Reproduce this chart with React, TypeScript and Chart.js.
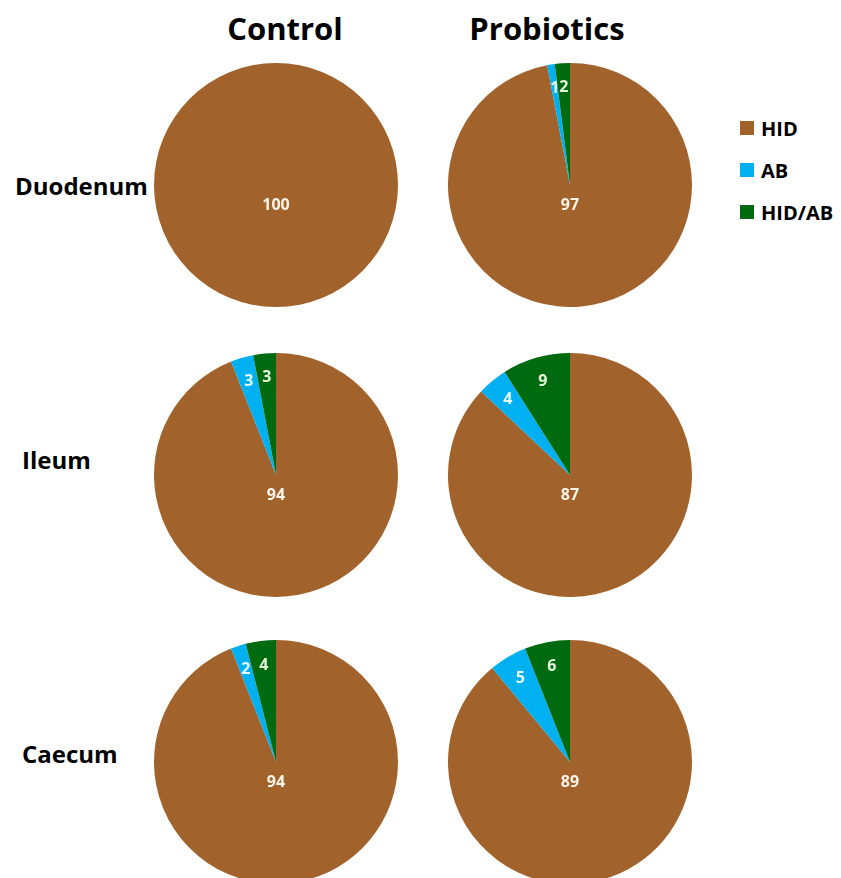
import React, { useEffect, useRef } from "react";
import { Chart, registerables } from "chart.js";

Chart.register(...registerables);

const categories = ["HID", "AB", "HID/AB"];
const colors = ["#A2622C", "#00B0F0", "#006A10"];
const columns = ["Control", "Probiotics"];
const rows = ["Duodenum", "Ileum", "Caecum"];

const duodenumControl = [100, 0, 0];
const duodenumProbiotics = [97, 1, 2];
const ileumControl = [94, 3, 3];
const ileumProbiotics = [87, 4, 9];
const caecumControl = [94, 2, 4];
const caecumProbiotics = [89, 5, 6];

const pieData = [
  [duodenumControl, duodenumProbiotics],
  [ileumControl, ileumProbiotics],
  [caecumControl, caecumProbiotics],
];

const colX = [276, 570];
const rowY = [185, 475, 762];
const R = 122;
const FONT = "'Open Sans', 'Liberation Sans', sans-serif";

const labelPlugin = {
  id: "sliceLabels",
  afterDatasetsDraw(chart: any) {
    const ctx = chart.ctx;
    const meta = chart.getDatasetMeta(0);
    const data = chart.data.datasets[0].data as number[];
    ctx.save();
    ctx.font = `bold 16px ${FONT}`;
    ctx.textAlign = "center";
    ctx.textBaseline = "middle";
    meta.data.forEach((arc: any, i: number) => {
      const v = data[i];
      if (!v) return;
      const { x, y, startAngle, endAngle, outerRadius } = arc.getProps(
        ["x", "y", "startAngle", "endAngle", "outerRadius"],
        true
      );
      let lx: number, ly: number;
      if (v > 50) {
        lx = x;
        ly = y + outerRadius * 0.17;
        ctx.fillStyle = "#FFF4E8";
      } else {
        const mid = (startAngle + endAngle) / 2;
        const rr = outerRadius * 0.8;
        lx = x + Math.cos(mid) * rr;
        ly = y + Math.sin(mid) * rr;
        ctx.fillStyle = i === 2 ? "#E4F7D8" : "#E8FAFF";
      }
      ctx.fillText(String(v), lx, ly);
    });
    ctx.restore();
  },
};

function Pie({ values, cx, cy }: { values: number[]; cx: number; cy: number }) {
  const ref = useRef<HTMLCanvasElement>(null);
  useEffect(() => {
    if (!ref.current) return;
    const chart = new Chart(ref.current, {
      type: "pie",
      data: {
        labels: categories,
        datasets: [
          {
            data: values,
            backgroundColor: colors,
            borderWidth: 0,
            hoverOffset: 0,
          },
        ],
      },
      options: {
        animation: false,
        responsive: false,
        maintainAspectRatio: false,
        layout: { padding: 0 },
        plugins: { legend: { display: false }, tooltip: { enabled: false } },
        events: [],
      },
      plugins: [labelPlugin],
    });
    return () => chart.destroy();
  }, [values]);
  const size = R * 2;
  return (
    <canvas
      ref={ref}
      width={size}
      height={size}
      style={{ position: "absolute", left: cx - R, top: cy - R, width: size, height: size }}
    />
  );
}

export default function App() {
  return (
    <div
      style={{
        position: "absolute",
        left: 0,
        top: 0,
        width: 841,
        height: 878,
        overflow: "hidden",
        background: "#fff",
        fontFamily: FONT,
        fontWeight: 700,
        color: "#000",
      }}
    >
      {columns.map((c, i) => (
        <div
          key={c}
          style={{
            position: "absolute",
            left: [285, 547][i] - 100,
            width: 200,
            top: 6,
            textAlign: "center",
            fontSize: 31,
            lineHeight: "44px",
          }}
        >
          {c}
        </div>
      ))}
      {rows.map((r, i) => (
        <div
          key={r}
          style={{
            position: "absolute",
            left: [15, 22, 22][i],
            top: [186, 460, 754][i] - 18,
            fontSize: 24,
            lineHeight: "36px",
          }}
        >
          {r}
        </div>
      ))}
      {pieData.map((row, ri) =>
        row.map((vals, ci) => <Pie key={`${ri}-${ci}`} values={vals} cx={colX[ci]} cy={rowY[ri]} />)
      )}
      {categories.map((c, i) => (
        <div
          key={c}
          style={{
            position: "absolute",
            left: 740,
            top: 128 + i * 42 - 14,
            height: 28,
            display: "flex",
            alignItems: "center",
            fontSize: 20,
          }}
        >
          <span
            style={{ display: "inline-block", width: 14, height: 14, background: colors[i], marginRight: 7 }}
          />
          {c}
        </div>
      ))}
    </div>
  );
}
